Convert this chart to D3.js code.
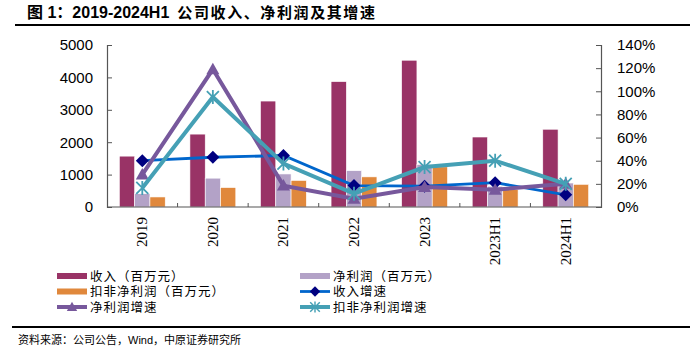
<!DOCTYPE html>
<html>
<head>
<meta charset="utf-8">
<script src="https://cdn.jsdelivr.net/npm/d3@7"></script>
<style>
  body { margin: 0; background: #fff; }
  svg text { font-family: "Liberation Sans", Arial, sans-serif; }
</style>
</head>
<body>
<div id="chart"></div>
<script>
// data
var categories = ["2019", "2020", "2021", "2022", "2023", "2023H1", "2024H1"];
var revenue = [1570, 2250, 3270, 3870, 4530, 2160, 2400];
var netProfit = [410, 890, 1020, 1120, 1310, 640, 740];
var deductedProfit = [310, 600, 820, 930, 1240, 540, 700];
var revenueGrowth = [0.40, 0.43, 0.445, 0.185, 0.18, 0.21, 0.105];
var netGrowth = [0.28, 1.19, 0.185, 0.072, 0.173, 0.15, 0.20];
var deductedGrowth = [0.165, 0.95, 0.375, 0.115, 0.345, 0.40, 0.20];
var leftTicks = [0, 1000, 2000, 3000, 4000, 5000];
var rightTicks = [0, 0.2, 0.4, 0.6, 0.8, 1.0, 1.2, 1.4];

var W = 690, H = 353;
var plot = {left: 107, right: 601, top: 45, bottom: 207};
var cjk = '"Liberation Sans", "Noto Sans CJK SC", sans-serif';

var svg = d3.select("#chart").append("svg")
    .attr("width", W)
    .attr("height", H);

// title and rules
var title = svg.append("text")
    .attr("x", 27)
    .attr("y", 18)
    .attr("font-size", 16)
    .attr("font-weight", "bold")
    .style("font-family", cjk);
title.append("tspan").text("图 1：2019-2024H1");
title.append("tspan")
    .attr("dx", 8)
    .attr("font-size", 15)
    .attr("letter-spacing", 1.6)
    .text("公司收入、净利润及其增速");
svg.append("line")
    .attr("x1", 15).attr("x2", W)
    .attr("y1", 25).attr("y2", 25)
    .attr("stroke", "#000").attr("stroke-width", 2);
svg.append("line")
    .attr("x1", 12).attr("x2", W)
    .attr("y1", 327).attr("y2", 327)
    .attr("stroke", "#000").attr("stroke-width", 2);
svg.append("text")
    .attr("x", 18)
    .attr("y", 344)
    .attr("font-size", 11)
    .style("font-family", cjk)
    .text("资料来源：公司公告，Wind，中原证券研究所");

// scales
var x = d3.scaleBand().domain(categories).range([plot.left, plot.right]);
var bw = x.bandwidth();
var barSeries = ["rev", "net", "ded"];
var xs = d3.scaleBand().domain(barSeries).range([bw * 0.175, bw * 0.825]);
var yL = d3.scaleLinear().domain([0, 5000]).range([plot.bottom, plot.top]);
var yR = d3.scaleLinear().domain([0, 1.4]).range([plot.bottom, plot.top]);

var barData = [
    {key: "rev", values: revenue, color: "#993366"},
    {key: "net", values: netProfit, color: "#B3A2C7"},
    {key: "ded", values: deductedProfit, color: "#E0883C"}
];

// bars
barData.forEach(function(s) {
    svg.append("g").selectAll("rect")
        .data(s.values)
        .join("rect")
        .attr("x", (d, i) => x(categories[i]) + xs(s.key))
        .attr("y", d => yL(d))
        .attr("width", xs.bandwidth())
        .attr("height", d => plot.bottom - yL(d))
        .attr("fill", s.color)
        .attr("stroke", "#fff")
        .attr("stroke-width", 0.6);
});

// axes
var axisColor = "#555";
var gL = svg.append("g")
    .attr("transform", "translate(" + plot.left + ",0)")
    .call(d3.axisRight(yL).tickValues(leftTicks).tickSize(5).tickFormat(d3.format("d")));
gL.selectAll("text")
    .attr("x", -14)
    .attr("text-anchor", "end")
    .attr("font-size", 15)
    .attr("fill", "#000");

var gR = svg.append("g")
    .attr("transform", "translate(" + plot.right + ",0)")
    .call(d3.axisLeft(yR).tickValues(rightTicks).tickSize(5).tickFormat(d3.format(".0%")));
gR.selectAll("text")
    .attr("x", 16)
    .attr("text-anchor", "start")
    .attr("font-size", 15)
    .attr("fill", "#000");

[gL, gR].forEach(function(g) {
    g.select(".domain").attr("stroke", axisColor).attr("stroke-width", 1.2);
    g.selectAll(".tick line").attr("stroke", axisColor);
});

// x axis: line, inside ticks at category edges, rotated labels
svg.append("line")
    .attr("x1", plot.left).attr("x2", plot.right)
    .attr("y1", plot.bottom).attr("y2", plot.bottom)
    .attr("stroke", axisColor).attr("stroke-width", 1.2);
svg.append("g").selectAll("line")
    .data(categories.slice(1))
    .join("line")
    .attr("x1", d => x(d)).attr("x2", d => x(d))
    .attr("y1", plot.bottom).attr("y2", plot.bottom - 4)
    .attr("stroke", axisColor);
svg.append("g").selectAll("text")
    .data(categories)
    .join("text")
    .attr("transform", d => "translate(" + (x(d) + bw / 2 + 5) + "," + (plot.bottom + 10) + ") rotate(-90)")
    .attr("text-anchor", "end")
    .attr("font-size", 15)
    .style("font-family", '"Liberation Serif", "Times New Roman", serif')
    .text(d => d);

// line series
var lineGen = d3.line()
    .x((d, i) => x(categories[i]) + bw / 2)
    .y(d => yR(d));

function diamond(g, s) {
    g.append("path").attr("d", "M0,-6.5L6.5,0L0,6.5L-6.5,0Z").attr("fill", s.marker);
}
function triangle(g, s) {
    g.append("path").attr("d", "M0,-6.5L6.5,5L-6.5,5Z").attr("fill", s.marker);
}
function asterisk(g, s) {
    g.append("path")
        .attr("d", "M-6,-6L6,6M-6,6L6,-6M0,-7L0,7")
        .attr("stroke", s.marker)
        .attr("stroke-width", 1.8)
        .attr("fill", "none");
}

var lineData = [
    {values: revenueGrowth, color: "#0066CC", marker: "#000080", width: 2.8, draw: diamond},
    {values: netGrowth, color: "#77589C", marker: "#77589C", width: 4, draw: triangle},
    {values: deductedGrowth, color: "#45A0B5", marker: "#45A0B5", width: 4, draw: asterisk}
];

lineData.forEach(function(s) {
    svg.append("path")
        .attr("d", lineGen(s.values))
        .attr("fill", "none")
        .attr("stroke", s.color)
        .attr("stroke-width", s.width)
        .attr("stroke-linejoin", "miter");
    s.values.forEach(function(v, i) {
        var g = svg.append("g")
            .attr("transform", "translate(" + (x(categories[i]) + bw / 2) + "," + yR(v) + ")");
        s.draw(g, s);
    });
});

// legend
var legendItems = [
    {label: "收入（百万元）", type: "bar", s: barData[0], col: 0, row: 0},
    {label: "净利润（百万元）", type: "bar", s: barData[1], col: 1, row: 0},
    {label: "扣非净利润（百万元）", type: "bar", s: barData[2], col: 0, row: 1},
    {label: "收入增速", type: "line", s: lineData[0], col: 1, row: 1},
    {label: "净利润增速", type: "line", s: lineData[1], col: 0, row: 2},
    {label: "扣非净利润增速", type: "line", s: lineData[2], col: 1, row: 2}
];
var legendX = [57, 300], legendY = [276, 291.5, 307];

legendItems.forEach(function(it) {
    var lx = legendX[it.col], ly = legendY[it.row];
    var g = svg.append("g");
    if (it.type === "bar") {
        g.append("rect")
            .attr("x", lx).attr("y", ly - 3)
            .attr("width", 30).attr("height", 6)
            .attr("fill", it.s.color);
    } else {
        g.append("line")
            .attr("x1", lx).attr("x2", lx + 30)
            .attr("y1", ly).attr("y2", ly)
            .attr("stroke", it.s.color)
            .attr("stroke-width", it.s.width);
        var m = g.append("g").attr("transform", "translate(" + (lx + 15) + "," + ly + ") scale(0.8)");
        it.s.draw(m, it.s);
    }
    g.append("text")
        .attr("x", lx + 33)
        .attr("y", ly + 4.5)
        .attr("font-size", 12.5)
        .style("font-family", cjk)
        .attr("letter-spacing", 1)
        .text(it.label);
});
</script>
</body>
</html>
